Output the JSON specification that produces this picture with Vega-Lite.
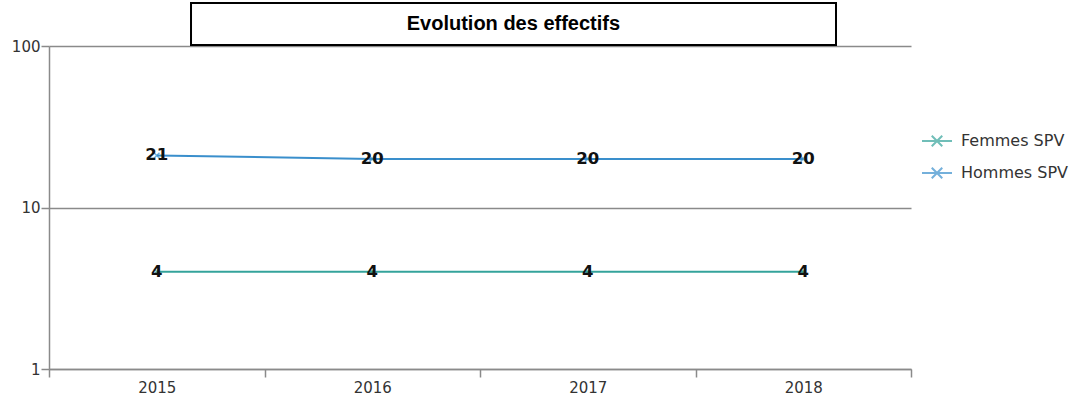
{
  "$schema": "https://vega.github.io/schema/vega-lite/v6.json",
  "width": 862,
  "height": 323,
  "autosize": "none",
  "padding": {"left": 49, "top": 46, "right": 159, "bottom": 32},
  "background": "white",
  "config": {"view": {"stroke": null}, "font": "DejaVu Sans"},
  "data": {"values": [
    {"annee": 2015, "serie": "Femmes SPV", "effectif": 4},
    {"annee": 2016, "serie": "Femmes SPV", "effectif": 4},
    {"annee": 2017, "serie": "Femmes SPV", "effectif": 4},
    {"annee": 2018, "serie": "Femmes SPV", "effectif": 4},
    {"annee": 2015, "serie": "Hommes SPV", "effectif": 21},
    {"annee": 2016, "serie": "Hommes SPV", "effectif": 20},
    {"annee": 2017, "serie": "Hommes SPV", "effectif": 20},
    {"annee": 2018, "serie": "Hommes SPV", "effectif": 20}
  ]},
  "layer": [
    {
      "mark": {"type": "line", "strokeWidth": 2},
      "encoding": {
        "x": {"field": "annee", "type": "quantitative",
          "scale": {"domain": [2014.5, 2018.5], "nice": false, "zero": false},
          "axis": {
            "values": [2014.5, 2015, 2015.5, 2016, 2016.5, 2017, 2017.5, 2018, 2018.5],
            "labelExpr": "datum.value % 1 === 0 ? format(datum.value, 'd') : ''",
            "tickOpacity": {"condition": {"test": "datum.value % 1 === 0", "value": 0}, "value": 1},
            "grid": false, "domainColor": "#8a8a8a", "domainWidth": 1.5, "tickColor": "#8a8a8a", "tickWidth": 1.5,
            "tickSize": 8, "labelFontSize": 15, "labelColor": "#333333", "labelPadding": 3,
            "title": null, "labelFlush": false, "labelOverlap": false
          }},
        "y": {"field": "effectif", "type": "quantitative",
          "scale": {"type": "log", "domain": [1, 100], "nice": false},
          "axis": {
            "values": [1, 10, 100], "format": "d",
            "grid": true, "gridColor": "#8a8a8a", "gridWidth": 1.5,
            "domainColor": "#8a8a8a", "domainWidth": 1.5, "tickColor": "#8a8a8a", "tickWidth": 1.5,
            "tickSize": 8, "labelFontSize": 15, "labelColor": "#333333", "labelPadding": 1,
            "title": null
          }},
        "color": {"field": "serie", "type": "nominal",
          "scale": {"domain": ["Femmes SPV", "Hommes SPV"], "range": ["#34a39b", "#3a8fcc"]},
          "legend": {
            "title": null, "orient": "none", "legendX": 872, "legendY": 79,
            "labelFontSize": 16, "labelColor": "#333333",
            "symbolType": "M-1,0L1,0M-0.35,-0.35L0.35,0.35M-0.35,0.35L0.35,-0.35",
            "symbolStrokeWidth": 2, "symbolSize": 900, "rowPadding": 6, "labelOffset": 8
          }}
      }
    },
    {
      "mark": {"type": "point", "shape": "M-1,-1L1,1M-1,1L1,-1", "filled": false, "size": 30, "strokeWidth": 1.5},
      "encoding": {
        "x": {"field": "annee", "type": "quantitative"},
        "y": {"field": "effectif", "type": "quantitative"},
        "color": {"field": "serie", "type": "nominal"}
      }
    },
    {
      "mark": {"type": "text", "fontSize": 16.5, "fontWeight": "bold", "color": "#111111", "baseline": "middle", "align": "center"},
      "encoding": {
        "x": {"field": "annee", "type": "quantitative"},
        "y": {"field": "effectif", "type": "quantitative"},
        "text": {"field": "effectif", "type": "quantitative"}
      }
    },
    {
      "data": {"values": [{}]},
      "mark": {"type": "rect", "fill": "white", "stroke": "black", "strokeWidth": 2},
      "encoding": {
        "x": {"datum": 2015.159, "type": "quantitative"},
        "x2": {"datum": 2018.152},
        "y": {"datum": 184.6, "type": "quantitative"},
        "y2": {"datum": 101.4}
      }
    },
    {
      "data": {"values": [{}]},
      "mark": {"type": "text", "text": "Evolution des effectifs", "font": "Liberation Sans", "fontWeight": "bold", "fontSize": 20, "color": "black", "baseline": "middle", "align": "center"},
      "encoding": {
        "x": {"datum": 2016.655, "type": "quantitative"},
        "y": {"datum": 136.8, "type": "quantitative"}
      }
    }
  ]
}
